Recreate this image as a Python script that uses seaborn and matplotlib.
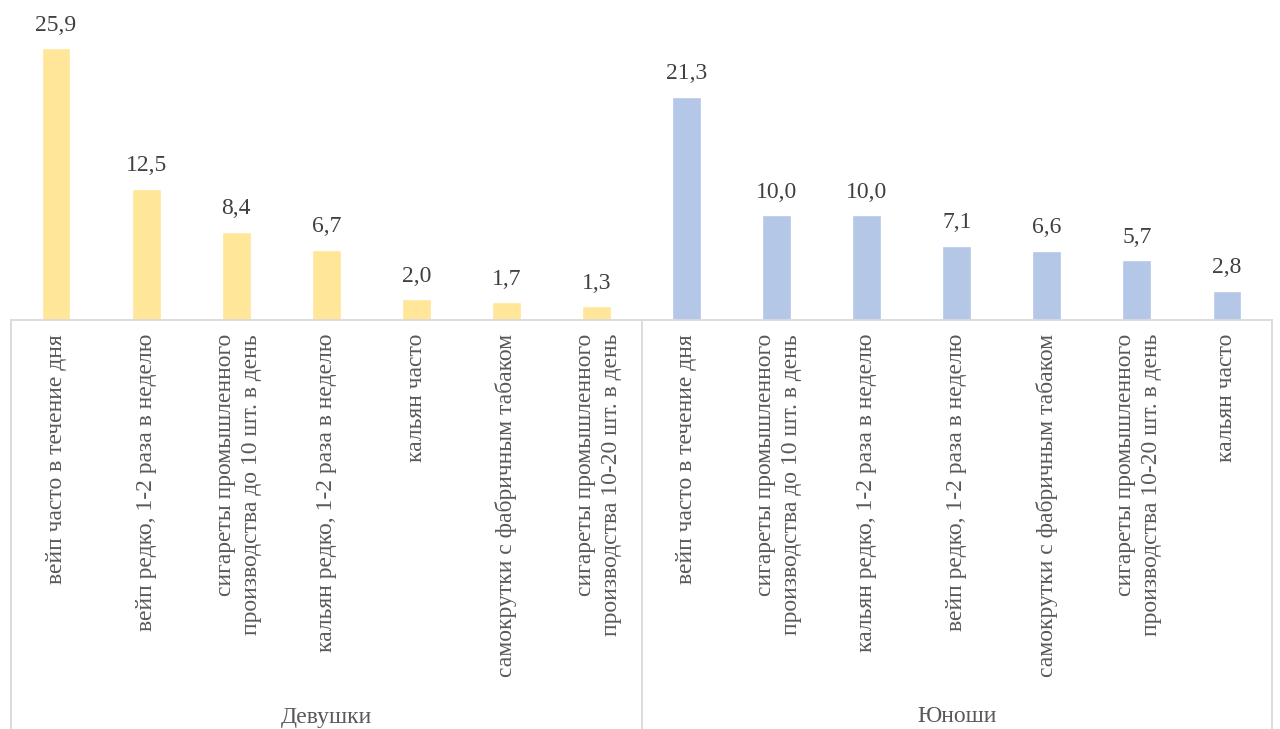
import matplotlib
matplotlib.use("Agg")
import matplotlib.pyplot as plt
from matplotlib.lines import Line2D
import seaborn as sns
import pandas as pd

# Survey shares (%) by group
groups = ["Девушки", "Юноши"]
girls_labels = [
    "вейп часто в течение дня",
    "вейп редко, 1-2 раза в неделю",
    "сигареты промышленного\nпроизводства до 10 шт. в день",
    "кальян редко, 1-2 раза в неделю",
    "кальян часто",
    "самокрутки с фабричным табаком",
    "сигареты промышленного\nпроизводства 10-20 шт. в день",
]
girls_values = [25.9, 12.5, 8.4, 6.7, 2.0, 1.7, 1.3]
boys_labels = [
    "вейп часто в течение дня",
    "сигареты промышленного\nпроизводства до 10 шт. в день",
    "кальян редко, 1-2 раза в неделю",
    "вейп редко, 1-2 раза в неделю",
    "самокрутки с фабричным табаком",
    "сигареты промышленного\nпроизводства 10-20 шт. в день",
    "кальян часто",
]
boys_values = [21.3, 10.0, 10.0, 7.1, 6.6, 5.7, 2.8]

colors = {"Девушки": "#FFE699", "Юноши": "#B4C7E7"}
value_color = "#404040"
label_color = "#595959"
line_color = "#D9D9D9"

rows = []
for g, labs, vals in [("Девушки", girls_labels, girls_values),
                      ("Юноши", boys_labels, boys_values)]:
    for lab, v in zip(labs, vals):
        rows.append({"group": g, "label": lab, "value": v})
df = pd.DataFrame(rows)
df["slot"] = [f"{i}" for i in range(len(df))]

sns.set_theme(style="white")
plt.rcParams["font.family"] = ["Liberation Serif", "DejaVu Serif"]

W, H = 1280, 729
fig = plt.figure(figsize=(W / 100, H / 100), dpi=100)
ax_left, ax_right, ax_base, ax_top = 11, 1272, 320, 0
ax = fig.add_axes([ax_left / W, 1 - ax_base / H,
                   (ax_right - ax_left) / W, (ax_base - ax_top) / H])

sns.barplot(data=df, x="slot", y="value", hue="group", palette=colors,
            dodge=False, width=0.32, order=list(df["slot"]),
            legend=False, ax=ax, saturation=1)

ax.set_xlim(-0.5, len(df) - 0.5)
ax.set_ylim(0, 30.5)
ax.set_xlabel("")
ax.set_ylabel("")
ax.set_xticks([])
ax.set_yticks([])
for side in ["left", "right", "top"]:
    ax.spines[side].set_visible(False)
ax.spines["bottom"].set_color(line_color)
ax.spines["bottom"].set_linewidth(1.3)

# Value labels above bars
for cont in ax.containers:
    ax.bar_label(cont, labels=[f"{b.get_height():.1f}".replace(".", ",") for b in cont],
                 padding=9, fontsize=17, color=value_color, clip_on=False)

# Category labels, rotated and hanging below the axis
label_y = 1 - 334 / H
for i, lab in enumerate(df["label"]):
    xf = (ax_left + (i + 0.5) * (ax_right - ax_left) / len(df)) / W
    if "\n" in lab:
        xf += 2 / W
    fig.text(xf, label_y, lab, rotation=90, ha="center", va="top",
             multialignment="right", fontsize=17, color=label_color,
             linespacing=1.3)

# Group labels and separators
n_per = len(girls_values)
edges = [ax_left, ax_left + n_per * (ax_right - ax_left) / len(df), ax_right]
for xe in edges:
    fig.add_artist(Line2D([xe / W, xe / W], [0, 1 - ax_base / H],
                          color=line_color, lw=1.3))
for k, g in enumerate(groups):
    xc = (edges[k] + edges[k + 1]) / 2 / W
    fig.text(xc, 1 - 717 / H, g, ha="center", va="center",
             fontsize=17, color=label_color)

fig.savefig("out.png", dpi=100, facecolor="white")
